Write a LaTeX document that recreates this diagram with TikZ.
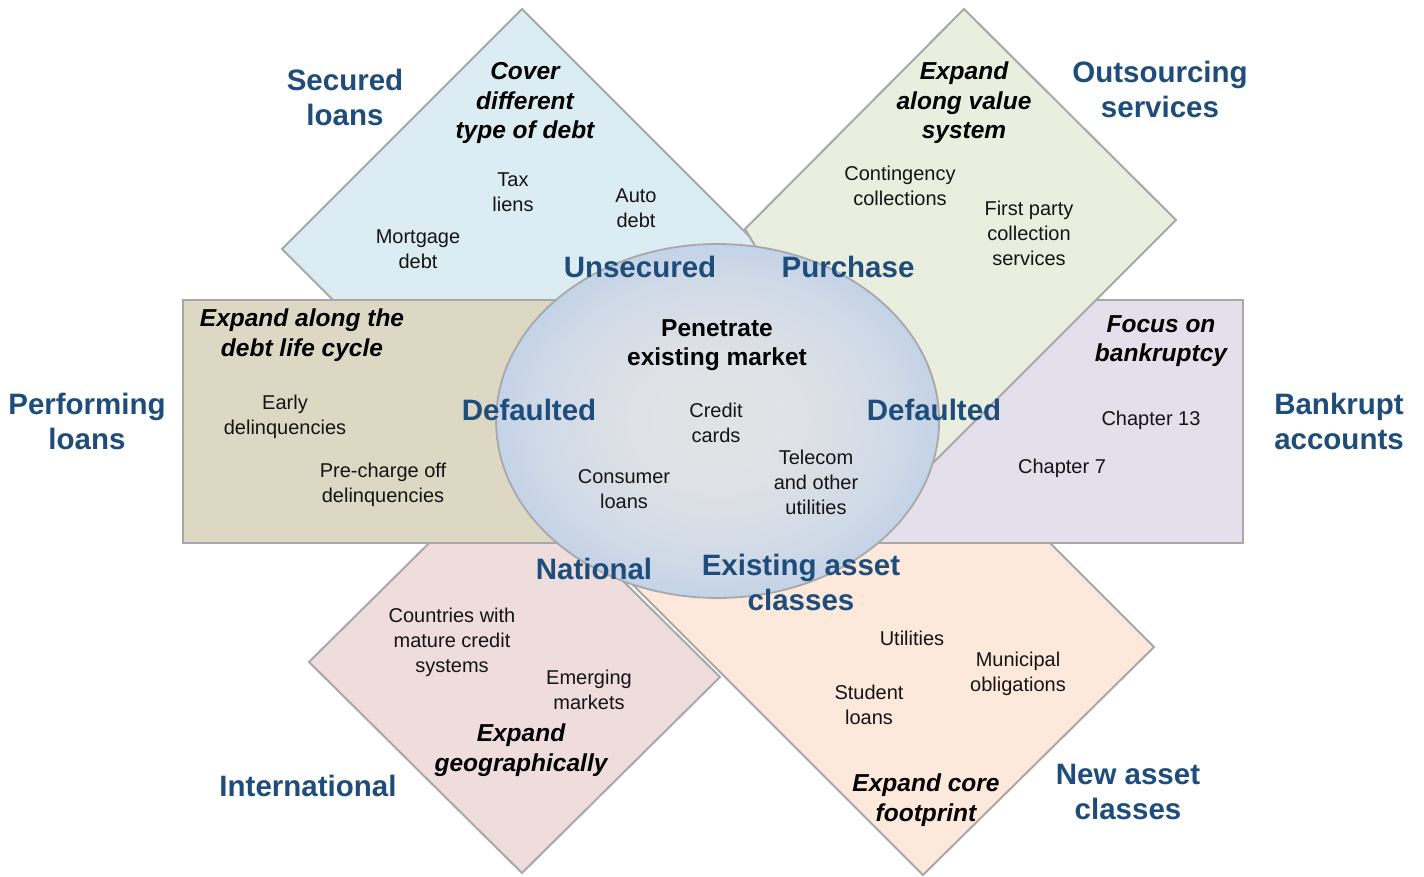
\documentclass[tikz,border=0pt]{standalone}
\usepackage{fontspec}
\setmainfont{Liberation Sans}
\definecolor{bordergray}{RGB}{168,168,168}
\definecolor{fblue}{RGB}{219,236,242}
\definecolor{fgreen}{RGB}{233,238,222}
\definecolor{ftan}{RGB}{221,216,196}
\definecolor{flav}{RGB}{227,223,235}
\definecolor{fpink}{RGB}{239,220,221}
\definecolor{fpeach}{RGB}{252,233,219}
\definecolor{catblue}{RGB}{30,77,123}
\definecolor{txt}{RGB}{20,20,20}
\definecolor{ecA}{RGB}{226,227,230}
\definecolor{ecB}{RGB}{222,225,230}
\definecolor{ecC}{RGB}{208,218,231}
\definecolor{ecD}{RGB}{187,205,232}
\definecolor{ecE}{RGB}{188,206,229}
\definecolor{ecF}{RGB}{200,217,226}
\definecolor{ecG}{RGB}{211,225,224}
\pgfdeclareradialshading{ellshade}{\pgfpoint{0bp}{0bp}}{color(0bp)=(ecA); color(10bp)=(ecB); color(20bp)=(ecC); color(29bp)=(ecD); color(37bp)=(ecE); color(44bp)=(ecF); color(50bp)=(ecG); color(60bp)=(ecG)}
\tikzset{
  shapeborder/.style={draw=bordergray, line width=2pt, line join=miter},
  cat/.style={font=\fontsize{29.5}{35}\selectfont\bfseries, text=catblue, align=center, inner sep=0pt},
  head/.style={font=\fontsize{24.5}{29.5}\selectfont\bfseries\itshape, align=center, inner sep=0pt, text=black},
  core/.style={font=\fontsize{24.5}{29}\selectfont\bfseries, align=center, inner sep=0pt, text=black},
  item/.style={font=\fontsize{20}{25}\selectfont, align=center, inner sep=0pt, text=txt},
}
\begin{document}
\begin{tikzpicture}[x=1pt,y=-1pt]
\useasboundingbox[fill=white] (0,0) rectangle (1424,877);
% back shapes
\path[shapeborder, fill=fpink] (309,662) -- (507,466) -- (720,677) -- (522,873) -- cycle;
\path[shapeborder, fill=fpeach] (600,552) -- (830,323) -- (1154,647) -- (923,875) -- cycle;
\path[shapeborder, fill=fblue] (282,249) -- (522,9) -- (762,249) -- (522,489) -- cycle;
\path[shapeborder, fill=flav] (840,300) rectangle (1243,543);
\path[shapeborder, fill=fgreen] (745,229) -- (964,9) -- (1176,220) -- (903,493) -- cycle;
\path[shapeborder, fill=ftan] (183,300) rectangle (600,543);
% central ellipse
\shade[shading=ellshade] (717.6,421) ellipse [x radius=221.5pt, y radius=177pt];
\draw[draw=bordergray, line width=1.8pt] (717.6,421) ellipse [x radius=221.5pt, y radius=177pt];

% blue category labels
\node[cat] (secured) at (345,97) {Secured\\loans};
\node[cat] (outsourcing) at (1160,89) {Outsourcing\\services};
\node[cat] (performing) at (87,421) {Performing\\loans};
\node[cat] (bankrupt) at (1339,421) {Bankrupt\\accounts};
\node[cat] (international) at (308,786) {International};
\node[cat] (newasset) at (1128,792) {New asset\\classes};
\node[cat] (unsecured) at (640,267) {Unsecured};
\node[cat] (purchase) at (848,267) {Purchase};
\node[cat] (defleft) at (529,410) {Defaulted};
\node[cat] (defright) at (934,410) {Defaulted};
\node[cat] (national) at (594,569) {National};
\node[cat] (existing) at (801,582) {Existing asset\\classes};

% italic headings
\node[head] (cover) at (525,103) {Cover\\different\\type of debt};
\node[head] (valuesys) at (964,103) {Expand\\along value\\system};
\node[head] (lifecycle) at (302,335) {Expand along the\\debt life cycle};
\node[head] (bankruptcy) at (1161,341) {Focus on\\bankruptcy};
\node[head] (geo) at (521,750) {Expand\\geographically};
\node[head] (corefoot) at (926,800) {Expand core\\footprint};
\node[core] (penetrate) at (717,345) {Penetrate\\existing market};

% items
\node[item] (tax) at (513,192) {Tax\\liens};
\node[item] (auto) at (636,208) {Auto\\debt};
\node[item] (mortgage) at (418,249) {Mortgage\\debt};
\node[item] (contingency) at (900,186) {Contingency\\collections};
\node[item] (firstparty) at (1029,233) {First party\\collection\\services};
\node[item] (early) at (285,417) {Early\\delinquencies};
\node[item] (precharge) at (383,485) {Pre-charge off\\delinquencies};
\node[item] (credit) at (716,423) {Credit\\cards};
\node[item] (consumer) at (624,489) {Consumer\\loans};
\node[item] (telecom) at (816,482) {Telecom\\and other\\utilities};
\node[item] (ch13) at (1151,420) {Chapter 13};
\node[item] (ch7) at (1062,468) {Chapter 7};
\node[item] (countries) at (452,642) {Countries with\\mature credit\\systems};
\node[item] (emerging) at (589,690) {Emerging\\markets};
\node[item] (utilities) at (912,638) {Utilities};
\node[item] (municipal) at (1018,674) {Municipal\\obligations};
\node[item] (student) at (869,705) {Student\\loans};
\end{tikzpicture}
\end{document}
